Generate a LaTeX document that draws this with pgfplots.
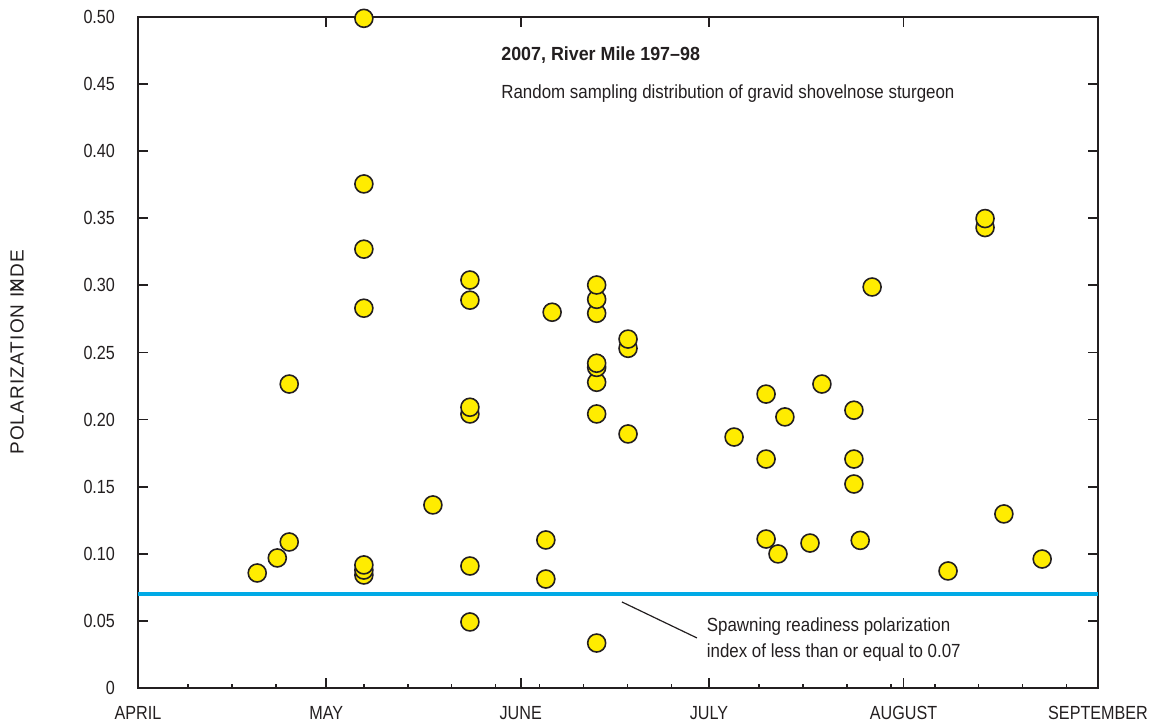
\documentclass[border=0pt]{standalone}
\usepackage{pgfplots}
\pgfplotsset{compat=1.18}
\usepackage{fontspec}
\setmainfont{Liberation Sans}[FakeStretch=0.85]
\newfontfamily\annfont{Liberation Sans}[FakeStretch=0.89]
\newfontfamily\titfont{Liberation Sans}[FakeStretch=0.94]
\newfontfamily\ylabfont{Liberation Sans}[LetterSpace=6]
\definecolor{axgray}{RGB}{35,31,32}
\definecolor{dotyellow}{RGB}{255,236,0}
\definecolor{lineblue}{RGB}{0,170,230}
\begin{document}
\begin{tikzpicture}[font=\fontsize{9.5}{11.5}\selectfont]
\path[use as bounding box] (-69pt,-19pt) rectangle (506pt,344pt);
\begin{axis}[
  at={(0,0)}, anchor=south west,
  scale only axis, width=480pt, height=335.5pt,
  xmin=0, xmax=153, ymin=0, ymax=0.5,
  clip=false,
  xtick={0,30,61,91,122,153},
  xticklabels={APRIL,MAY,JUNE,JULY,AUGUST,SEPTEMBER},
  ytick={0,0.05,0.1,0.15,0.2,0.25,0.3,0.35,0.4,0.45,0.5},
  yticklabels={0,0.05,0.10,0.15,0.20,0.25,0.30,0.35,0.40,0.45,0.50},
  tick align=inside, major tick length=5pt,
  tick style={line width=0.9pt, color=axgray},
  axis line style={line width=1pt, color=axgray},
  xticklabel style={yshift=-5.7pt, text=axgray},
  yticklabel style={xshift=-8pt, text=axgray},
  ylabel={\ylabfont POLARIZATION I\rlap{X}NDE},
  every axis y label/.style={at={(axis description cs:-0.126,0.5)}, rotate=90, anchor=center, text=axgray},
]
\addplot[color=lineblue, line width=2pt, forget plot] coordinates {(0,0.07) (153,0.07)};
\addplot[only marks, mark=*, mark size=4.5pt,
  mark options={fill=dotyellow, draw=axgray, line width=0.8pt}] coordinates {
(19,0.0857)
(22.2,0.0969)
(24.1,0.1088) (24.1,0.2265)
(36,0.0842) (36,0.0879) (36,0.0917) (36,0.283) (36,0.327) (36,0.3756) (36,0.499)
(47,0.1364)
(52.9,0.0492) (52.9,0.0909) (52.9,0.2042) (52.9,0.2092) (52.9,0.289) (52.9,0.304)
(65,0.0812) (65,0.1103)
(66,0.280)
(73.1,0.0335) (73.1,0.2042) (73.1,0.2278) (73.1,0.2389) (73.1,0.242) (73.1,0.2792) (73.1,0.2896) (73.1,0.3003)
(78.1,0.1893) (78.1,0.2531) (78.1,0.260)
(95,0.187)
(100.1,0.111) (100.1,0.1706) (100.1,0.219)
(102,0.0999)
(103.1,0.202)
(107.1,0.108)
(109,0.2265)
(114.1,0.152) (114.1,0.1706) (114.1,0.207)
(115.1,0.110)
(117,0.2988)
(129.1,0.0872)
(135,0.3431) (135,0.3498)
(138,0.1297)
(144.1,0.0961)
};
\node[anchor=west, inner sep=0pt, font=\fontsize{9.5}{11.5}\titfont\bfseries, text=axgray] at (axis cs:57.85,0.4717) {2007, River Mile 197–98};
\node[anchor=west, inner sep=0pt, font=\fontsize{9.5}{11.5}\annfont, text=axgray] at (axis cs:57.85,0.4427) {Random sampling distribution of gravid shovelnose sturgeon};
\draw[axgray, line width=0.6pt] (axis cs:77.13,0.0641) -- (axis cs:89.08,0.0373);
\node[anchor=west, inner sep=0pt, align=left, font=\fontsize{9.5}{11.5}\annfont, text=axgray] at (axis cs:90.6,0.0363) {Spawning readiness polarization\\[1.5pt]index of less than or equal to 0.07};
\end{axis}
\begin{axis}[
  at={(0,0)}, anchor=south west,
  scale only axis, width=480pt, height=335.5pt,
  xmin=0, xmax=153, ymin=0, ymax=0.5,
  hide y axis,
  axis x line*=bottom,
  axis line style={draw=none},
  xtick={8,15,22,36,43,50,57,64,71,78,85,99,106,113,120,127,134,141,148},
  xticklabels={},
  tick align=inside, major tick length=1.8pt,
  tick style={line width=0.7pt, color=axgray},
]
\addplot[draw=none] coordinates {(0,0) (153,0)};
\end{axis}
\end{tikzpicture}
\end{document}
